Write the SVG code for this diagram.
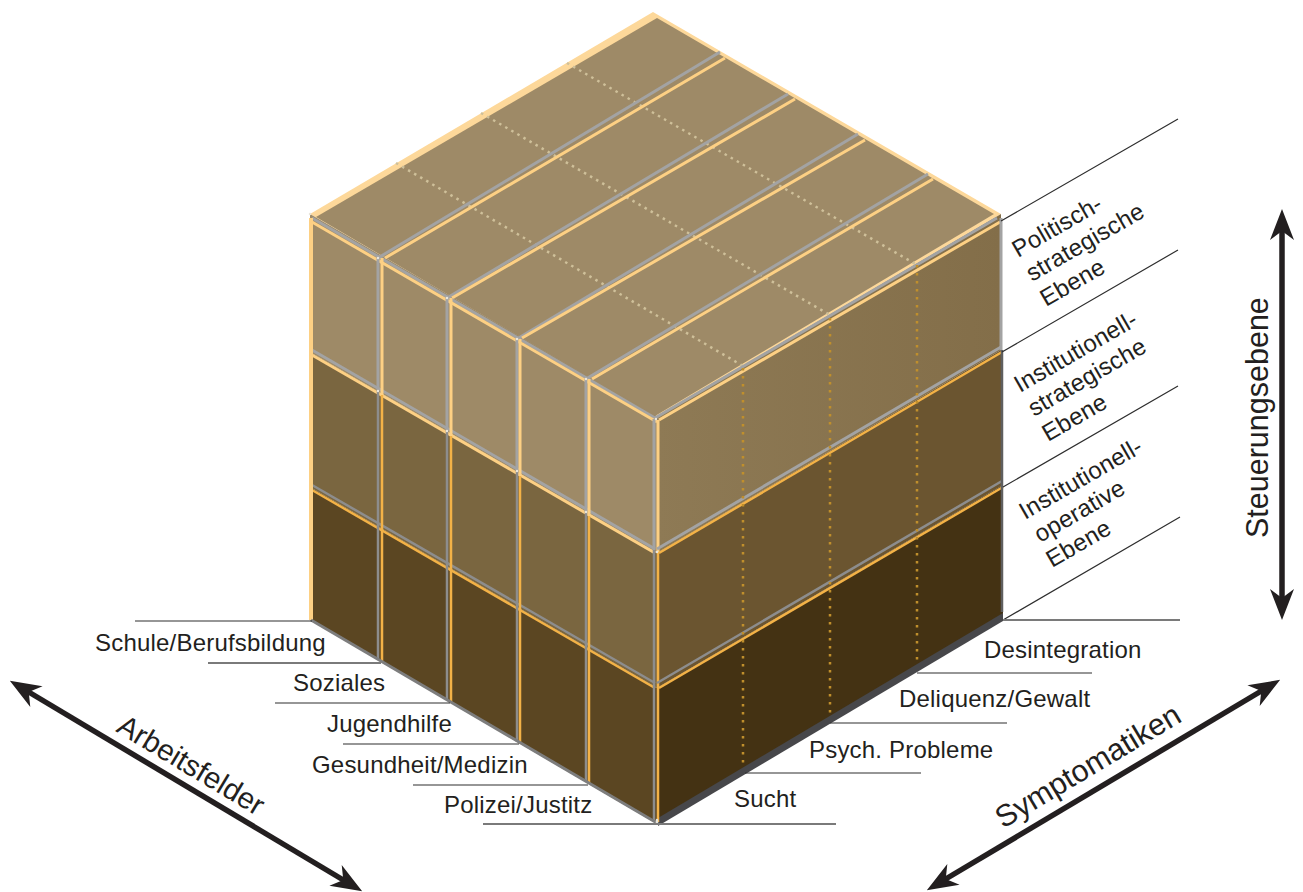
<svg xmlns="http://www.w3.org/2000/svg" width="1303" height="892" viewBox="0 0 1303 892">
<style>
text{font-family:"Liberation Sans",Arial,sans-serif;font-size:24px;letter-spacing:.2px;fill:#231f20}
.ax{font-size:30.5px;letter-spacing:0}
.l{stroke:#2e2e2e;stroke-width:1.2;fill:none}
.lg{stroke:#7a7a7a;stroke-width:1.8;fill:none}
.g{stroke:#a3a3a3;stroke-width:3;fill:none}
.o{stroke:#fdd084;stroke-width:3;fill:none}
.og{stroke:#f3b247;stroke-width:2.5;fill:none}
.gd{stroke:#8d8d8d;stroke-width:2.5;fill:none}
.dt{stroke:#cfc09a;stroke-width:2.5;stroke-dasharray:2.5 4.5;fill:none}
.dv{stroke:#c08f2c;stroke-width:2.5;stroke-dasharray:2.5 5.5;fill:none}
.a{stroke:#231f20;stroke-width:5.5;fill:none;marker-start:url(#h);marker-end:url(#h)}
.w{stroke:#e8e4da;stroke-width:2.5;stroke-linecap:round;fill:none}
</style>
<defs>
<marker id="h" markerUnits="userSpaceOnUse" markerWidth="34" markerHeight="28" refX="12" refY="14" orient="auto-start-reverse"><path d="M1 2 L32 14 L1 26 L10 14 Z" fill="#231f20"/></marker>
<linearGradient id="r1" x1="0" y1="0" x2="1" y2="0"><stop offset="0" stop-color="#8e7a55"/><stop offset="1" stop-color="#836e49"/></linearGradient>
</defs>
<g id="cube">
<path d="M653 12 L1001 214 L657 416 L310 214 Z" fill="#fdd89a"/>
<path id="top" d="M657 18 L994 214 L655 416 L316 217 Z" fill="#9e8a67"/>
<path d="M310 214 L657 416 L657 553 L310 352 Z" fill="#9e8a67"/>
<path d="M310 352 L657 553 L657 688 L310 487 Z" fill="#7a6640"/>
<path d="M310 487 L657 688 L657 824 L310 620 Z" fill="#5b4622"/>
<path d="M657 416 L1001 214 L1001 350 L657 553 Z" fill="url(#r1)"/>
<path d="M657 553 L1001 350 L1003 485 L657 688 Z" fill="#6b5530"/>
<path d="M657 688 L1003 485 L1003 618 L657 824 Z" fill="#443213"/>
<path d="M658 826 L1003 621 L1003 613 L658 818 Z" fill="#47474a"/>
</g>
<g id="grid">
<path class="dt" d="M396 163 L743 366 M481 113 L830 315 M567 63 L917 265"/>
<path class="g" d="M378 258 L720 52 M447 298 L788 94 M517 339 L858 134 M586 379 L928 174 M655 418 L997 218"/>
<path class="o" d="M385 258 L725 58 M452 298 L795 99 M522 338 L865 140 M592 379 L933 179 M659 420 L1000 222"/>
<path class="g" d="M312 218 L655 418"/>
<path class="o" d="M312 222 L657 422"/>
<path class="g" d="M312 350 L655 549"/>
<path class="o" d="M312 355 L655 553"/>
<path class="gd" d="M312 485 L655 683"/>
<path class="og" d="M312 490 L655 688"/>
<path class="o" d="M311 218 V620" style="stroke-width:4"/>
<path class="g" d="M378 258 V390 M447 298 V430 M517 339 V470 M586 379 V512 M654 419 V550"/>
<path class="o" d="M382 258 V395 M451 298 V436 M520 339 V476 M589 379 V516 M658 420 V552"/>
<path class="gd" d="M378 390 V525 M447 430 V566 M517 470 V607 M586 512 V648 M654 550 V685"/>
<path class="og" d="M382 395 V530 M451 436 V570 M520 476 V610 M589 516 V650 M658 552 V688"/>
<path class="gd" d="M378 525 V660 M447 566 V700 M517 607 V742 M586 648 V782 M654 685 V820"/>
<path class="og" d="M382 530 V662 M451 570 V702 M520 610 V744 M589 650 V784 M658 688 V822"/>
<path d="M311 620 L657 823" stroke="#7d7d7d" stroke-width="3" fill="none"/>
<path class="g" d="M657 549 L1001 347"/>
<path class="og" d="M659 553 L1002 352"/>
<path class="gd" d="M657 683 L1002 481"/>
<path class="og" d="M659 688 L1003 487"/>
<path class="dv" d="M743 368 V766 M830 318 V718 M917 265 V665"/>
<path d="M1001 218 V350" stroke="#a3a3a3" stroke-width="3" fill="none"/>
<path d="M1002 350 V612" stroke="#5f5f5f" stroke-width="2.5" fill="none"/>
<path class="w" d="M378 258h0 M447 298h0 M517 339h0 M586 379h0 M656 419h0 M378 391h0 M447 431h0 M517 471h0 M586 512h0 M657 552h0 M657 820v3 M310 214h0"/>
</g>
<g id="connectors">
<path class="l" d="M1001 221 L1178 119 M1002 352 L1178 250 M1003 487 L1178 386 M1003 620 L1180 517"/>
<path class="l" d="M135 621 H312 M275 703 H450 M343 744 H519 M413 785 H588 M917 673 H1092 M830 723 H1007 M745 773 H921"/>
<path class="lg" d="M208 663 H381 M483 824 H836 M1003 620 H1180"/>
<path class="a" d="M27 691 L345 881"/>
<path class="a" d="M1263 690 L944 880"/>
<path class="a" d="M1282 229 V600"/>
</g>
<g id="labels">
<text x="95" y="651">Schule/Berufsbildung</text>
<text x="293" y="691">Soziales</text>
<text x="327" y="732">Jugendhilfe</text>
<text x="312" y="773">Gesundheit/Medizin</text>
<text x="444" y="813">Polizei/Justitz</text>
<text x="734" y="807">Sucht</text>
<text x="809" y="758">Psych. Probleme</text>
<text x="899" y="707">Deliquenz/Gewalt</text>
<text x="984" y="658">Desintegration</text>
<text transform="translate(1018 258) rotate(-30)">Politisch-</text>
<text transform="translate(1032 282) rotate(-30)">strategische</text>
<text transform="translate(1046 307) rotate(-30)">Ebene</text>
<text transform="translate(1020 393) rotate(-30)">Institutionell-</text>
<text transform="translate(1034 417) rotate(-30)">strategische</text>
<text transform="translate(1048 442) rotate(-30)">Ebene</text>
<text transform="translate(1025 520) rotate(-30)">Institutionell-</text>
<text transform="translate(1040 543) rotate(-30)">operative</text>
<text transform="translate(1052 568) rotate(-30)">Ebene</text>
<text class="ax" style="font-size:29.5px" transform="translate(115 731) rotate(31)">Arbeitsfelder</text>
<text class="ax" transform="translate(1003 829) rotate(-31)">Symptomatiken</text>
<text class="ax" transform="translate(1268 538) rotate(-90)">Steuerungsebene</text>
</g>
</svg>
